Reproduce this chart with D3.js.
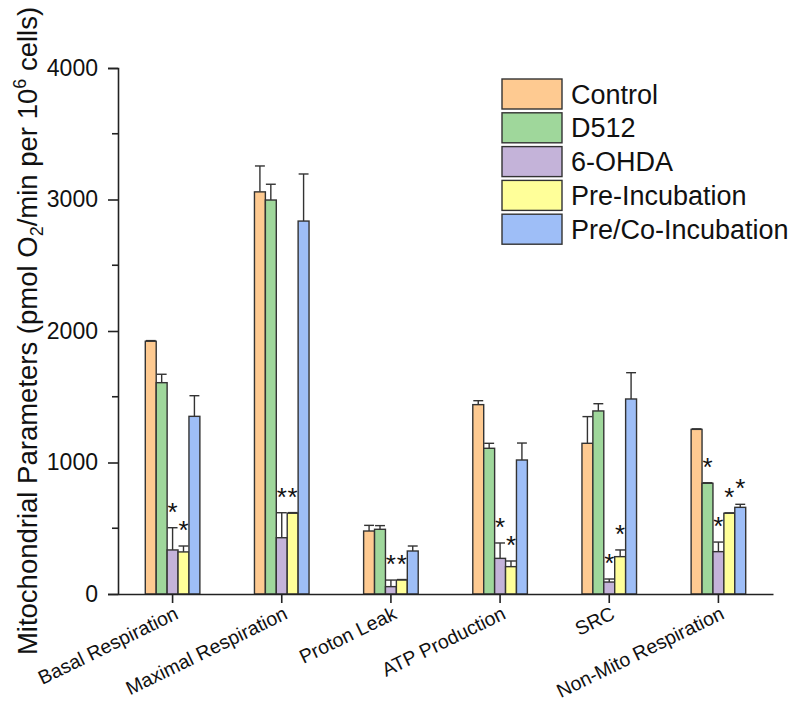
<!DOCTYPE html>
<html>
<head>
<meta charset="utf-8">
<script src="https://cdn.jsdelivr.net/npm/d3@7"></script>
<style>
  html, body { margin: 0; padding: 0; background: #fff; }
  svg { display: block; font-family: Arial, "Liberation Sans", sans-serif; }
</style>
</head>
<body>
<svg id="chart" width="794" height="702"></svg>
<script>
// Mitochondrial respiration parameters per treatment group (mean and SEM)
const categories = ["Basal Respiration", "Maximal Respiration", "Proton Leak", "ATP Production", "SRC", "Non-Mito Respiration"];
const groups = ["Control", "D512", "6-OHDA", "Pre-Incubation", "Pre/Co-Incubation"];
const colors = ["#FECA91", "#9FD79B", "#C4B3D9", "#FFFF99", "#9EBEF7"];

const controlMean = [1922, 3058, 479, 1440, 1146, 1252];
const controlErr  = [5, 197, 43, 30, 203, 4];
const d512Mean    = [1607, 2996, 492, 1108, 1392, 842];
const d512Err     = [64, 120, 28, 38, 55, 4];
const ohdaMean    = [335, 428, 56, 271, 91, 322];
const ohdaErr     = [169, 190, 50, 117, 23, 73];
const preMean     = [320, 614, 106, 208, 284, 614];
const preErr      = [45, 5, 4, 43, 51, 3];
const preCoMean   = [1351, 2836, 327, 1019, 1483, 659];
const preCoErr    = [157, 358, 38, 129, 200, 23];

// significance markers (true = asterisk drawn above the bar)
const controlSig = [false, false, false, false, false, false];
const d512Sig    = [false, false, false, false, false, true];
const ohdaSig    = [true, true, true, true, true, true];
const preSig     = [true, true, true, true, true, true];
const preCoSig   = [false, false, false, false, false, true];

const yTicks = [0, 1000, 2000, 3000, 4000];
const yMinorTicks = [500, 1500, 2500, 3500];

const series = [
  {name: groups[0], mean: controlMean, err: controlErr, sig: controlSig},
  {name: groups[1], mean: d512Mean, err: d512Err, sig: d512Sig},
  {name: groups[2], mean: ohdaMean, err: ohdaErr, sig: ohdaSig},
  {name: groups[3], mean: preMean, err: preErr, sig: preSig},
  {name: groups[4], mean: preCoMean, err: preCoErr, sig: preCoSig}
];

const svg = d3.select("#chart");
const plotLeft = 118, plotRight = 773, plotTop = 68, plotBottom = 594;

const x = d3.scaleBand().domain(categories).range([plotLeft, plotRight]).padding(0);
const y = d3.scaleLinear().domain([0, 4000]).range([plotBottom, plotTop]);
const groupWidth = x.bandwidth() * 0.5;
const xi = d3.scaleBand().domain(groups).range([0, groupWidth]).padding(0);
const bw = xi.bandwidth();
const color = d3.scaleOrdinal().domain(groups).range(colors);

const flat = [];
series.forEach(s => categories.forEach((c, i) => {
  flat.push({cat: c, name: s.name, mean: s.mean[i], err: s.err[i], sig: s.sig[i]});
}));
const bx = d => x(d.cat) + x.bandwidth() / 2 - groupWidth / 2 + xi(d.name);

// error bars (upper only)
const eb = svg.append("g").attr("stroke", "#333").attr("stroke-width", 1.4).attr("fill", "none");
eb.selectAll("line.v").data(flat).join("line").attr("class", "v")
  .attr("x1", d => bx(d) + bw / 2).attr("x2", d => bx(d) + bw / 2)
  .attr("y1", d => y(d.mean)).attr("y2", d => y(d.mean + d.err));
eb.selectAll("line.c").data(flat).join("line").attr("class", "c")
  .attr("x1", d => bx(d) + 0.5).attr("x2", d => bx(d) + bw - 0.5)
  .attr("y1", d => y(d.mean + d.err)).attr("y2", d => y(d.mean + d.err));

// bars
svg.append("g").selectAll("rect").data(flat).join("rect")
  .attr("x", d => bx(d)).attr("width", bw)
  .attr("y", d => y(d.mean)).attr("height", d => y(0) - y(d.mean))
  .attr("fill", d => color(d.name))
  .attr("stroke", "#333").attr("stroke-width", 1.4);

// asterisks
svg.append("g").selectAll("text").data(flat.filter(d => d.sig)).join("text")
  .attr("x", d => bx(d) + bw / 2)
  .attr("y", d => y(d.mean + d.err) - 7)
  .attr("text-anchor", "middle")
  .attr("font-size", 26)
  .attr("fill", "#111")
  .text("*");

// y axis
const yAxis = svg.append("g").attr("transform", `translate(${plotLeft},0)`)
  .call(d3.axisLeft(y).tickValues(yTicks).tickSize(10).tickPadding(10).tickFormat(d3.format("d")));
yAxis.select(".domain").attr("stroke", "#222").attr("stroke-width", 1.6);
yAxis.selectAll(".tick line").attr("stroke", "#222").attr("stroke-width", 1.6);
yAxis.selectAll(".tick text").attr("font-size", 23).attr("fill", "#111")
  .attr("font-family", "Arial, 'Liberation Sans', sans-serif");
svg.append("g").selectAll("line").data(yMinorTicks).join("line")
  .attr("x1", plotLeft - 6).attr("x2", plotLeft).attr("y1", d => y(d)).attr("y2", d => y(d))
  .attr("stroke", "#222").attr("stroke-width", 1.6);

// x axis
const xAxis = svg.append("g").attr("transform", `translate(0,${plotBottom})`)
  .call(d3.axisBottom(x).tickSize(9).tickSizeOuter(0).tickFormat(""));
xAxis.select(".domain").attr("stroke", "#222").attr("stroke-width", 1.6);
xAxis.selectAll(".tick line").attr("stroke", "#222").attr("stroke-width", 1.6);
svg.append("g").selectAll("text").data(categories).join("text")
  .attr("transform", d => `translate(${x(d) + x.bandwidth() / 2 + 7},${plotBottom + 24}) rotate(-26)`)
  .attr("text-anchor", "end")
  .attr("font-size", 19.5)
  .attr("fill", "#111")
  .text(d => d);

// y axis title
const title = svg.append("text")
  .attr("transform", `translate(37,331) rotate(-90)`)
  .attr("text-anchor", "middle")
  .attr("font-size", 27.5)
  .attr("fill", "#111");
title.append("tspan").text("Mitochondrial Parameters (pmol O");
title.append("tspan").attr("font-size", 18).attr("dy", 6).text("2");
title.append("tspan").attr("dy", -6).text("/min per 10");
title.append("tspan").attr("font-size", 18).attr("dy", -11).text("6");
title.append("tspan").attr("dy", 11).text(" cells)");

// legend
const legend = svg.append("g").attr("transform", "translate(502,79)");
const li = legend.selectAll("g").data(groups).join("g")
  .attr("transform", (d, i) => `translate(0,${i * 33.8})`);
li.append("rect").attr("width", 60).attr("height", 30)
  .attr("fill", d => color(d)).attr("stroke", "#333").attr("stroke-width", 1.4);
li.append("text").attr("x", 69).attr("y", 24.5)
  .attr("font-size", 27).attr("fill", "#111").text(d => d);
</script>
</body>
</html>
